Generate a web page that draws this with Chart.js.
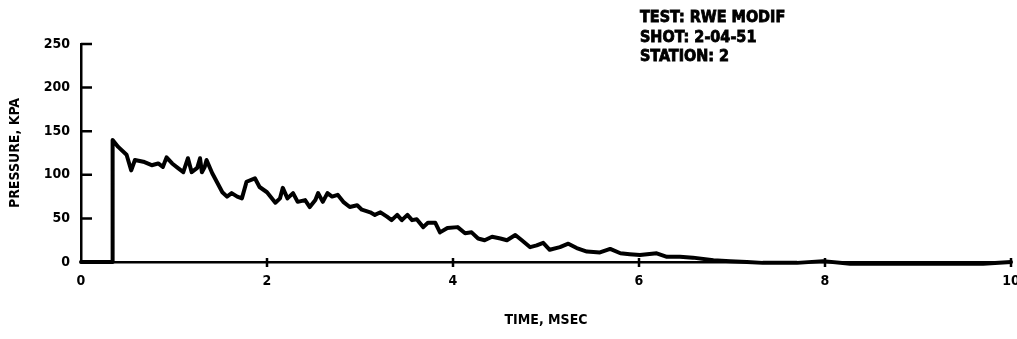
<!DOCTYPE html>
<html>
<head>
<meta charset="utf-8">
<title>Pressure trace</title>
<script src="https://cdn.jsdelivr.net/npm/chart.js@4/dist/chart.umd.min.js"></script>
<style>
    html, body { margin: 0; padding: 0; background: #fff; }
    #wrap { width: 1017px; height: 339px; }
</style>
</head>
<body>
<div id="wrap"><canvas id="pressure-chart" width="1017" height="339"></canvas></div>
<script>
// gauge record, time in msec, pressure in kPa
const timeMs = [
    0, 0.34, 0.34, 0.40, 0.49, 0.54, 0.58, 0.67, 0.76, 0.83, 0.88, 0.92, 0.98, 1.04, 1.10,
    1.15, 1.19, 1.25, 1.28, 1.30, 1.33, 1.35, 1.41, 1.46, 1.52, 1.57, 1.62, 1.68, 1.73, 1.78,
    1.87, 1.92, 2.00, 2.09, 2.14, 2.17, 2.22, 2.28, 2.33, 2.41, 2.46, 2.52, 2.55, 2.60, 2.65,
    2.70, 2.76, 2.82, 2.89, 2.97, 3.02, 3.11, 3.16, 3.22, 3.29, 3.34, 3.40, 3.45, 3.51, 3.56,
    3.61, 3.68, 3.73, 3.81, 3.86, 3.94, 4.05, 4.13, 4.20, 4.27, 4.34, 4.42, 4.51, 4.58, 4.67,
    4.74, 4.83, 4.90, 4.97, 5.04, 5.15, 5.24, 5.33, 5.44, 5.58, 5.69, 5.80, 5.90, 6.01, 6.19,
    6.30, 6.44, 6.58, 6.80, 6.98, 7.16, 7.33, 7.52, 7.70, 7.98, 8.27, 8.60, 9.00, 9.40, 9.70,
    10.0
];
const pressureKpa = [
    0, 0, 140, 132, 123, 105, 117, 115, 111, 113, 109, 120, 113, 108, 103,
    119, 103, 108, 119, 103, 109, 117, 102, 92, 80, 75, 79, 75, 73, 92,
    96, 86, 80, 68, 73, 85, 73, 79, 69, 71, 63, 71, 79, 69, 79,
    75, 77, 69, 63, 65, 60, 57, 54, 57, 52, 48, 54, 48, 54, 48,
    49, 40, 45, 45, 34, 39, 40, 33, 34, 27, 25, 29, 27, 25, 31,
    25, 17, 19, 22, 14, 17, 21, 16, 12, 11, 15, 10, 9, 8, 10,
    6, 6, 5, 2, 1, 0, -1, -1, -1, 1, -2, -2, -2, -2, -2,
    0
];
const timeTicks = [0, 2, 4, 6, 8, 10];
const pressureTicks = [0, 50, 100, 150, 200, 250];
const headerLines = ['TEST: RWE MODIF', 'SHOT: 2-04-51', 'STATION: 2'];

const FONT = "'DejaVu Sans Condensed', 'DejaVu Sans', sans-serif";

// inward tick marks on the y axis, crossing marks on the x axis, and the header block
const axisMarks = {
    id: 'axisMarks',
    afterDraw(chart) {
        const {ctx, scales: {x, y}, chartArea} = chart;
        ctx.save();
        ctx.strokeStyle = '#000';
        ctx.lineWidth = 2.5;
        ctx.beginPath();
        pressureTicks.forEach(v => {
            if (v === 0) return;
            const py = y.getPixelForValue(v);
            ctx.moveTo(chartArea.left, py);
            ctx.lineTo(chartArea.left + 11, py);
        });
        timeTicks.forEach(v => {
            if (v === 0) return;
            const px = x.getPixelForValue(v);
            ctx.moveTo(px, chartArea.bottom - 4);
            ctx.lineTo(px, chartArea.bottom + 5);
        });
        ctx.stroke();

        ctx.fillStyle = '#000';
        ctx.lineWidth = 0.8;
        ctx.font = 'bold 16px ' + FONT;
        ctx.textBaseline = 'middle';
        headerLines.forEach((line, i) => {
            ctx.fillText(line, 640, 18 + i * 19.5);
            ctx.strokeText(line, 640, 18 + i * 19.5);
        });
        ctx.restore();
    },
};

new Chart(document.getElementById('pressure-chart'), {
    type: 'line',
    data: {
        datasets: [{
            data: timeMs.map((t, i) => ({x: t, y: pressureKpa[i]})),
            borderColor: '#000',
            borderWidth: 4,
            borderJoinStyle: 'round',
            borderCapStyle: 'round',
            pointRadius: 0,
            tension: 0,
            fill: false,
            clip: false,
        }],
    },
    options: {
        responsive: false,
        animation: false,
        events: [],
        layout: {
            padding: {left: 0, right: 6, top: 44, bottom: 0},
        },
        plugins: {
            legend: {display: false},
            tooltip: {enabled: false},
        },
        scales: {
            x: {
                type: 'linear',
                min: 0,
                max: 10,
                afterFit(scale) {
                    scale.height = 77;
                    scale.paddingLeft = 0;
                    scale.paddingRight = 0;
                },
                afterBuildTicks(scale) {
                    scale.ticks = timeTicks.map(v => ({value: v}));
                },
                grid: {display: true, drawOnChartArea: false, drawTicks: false},
                border: {display: true, color: '#000', width: 2.5},
                ticks: {
                    color: '#000',
                    padding: 11,
                    maxRotation: 0,
                    font: {family: FONT, size: 14, weight: 'bold'},
                },
                title: {
                    display: true,
                    text: 'TIME, MSEC',
                    color: '#000',
                    padding: {top: 0, bottom: 10},
                    font: {family: FONT, size: 14, weight: 'bold'},
                },
            },
            y: {
                min: 0,
                max: 250,
                afterFit(scale) {
                    scale.width = 81;
                    scale.paddingTop = 0;
                    scale.paddingBottom = 0;
                },
                afterBuildTicks(scale) {
                    scale.ticks = pressureTicks.map(v => ({value: v}));
                },
                grid: {display: true, drawOnChartArea: false, drawTicks: false},
                border: {display: true, color: '#000', width: 2.5},
                ticks: {
                    color: '#000',
                    padding: 11,
                    font: {family: FONT, size: 14, weight: 'bold'},
                },
                title: {
                    display: true,
                    text: 'PRESSURE, KPA',
                    color: '#000',
                    padding: {top: 7, bottom: 0},
                    font: {family: FONT, size: 14, weight: 'bold'},
                },
            },
        },
    },
    plugins: [axisMarks],
});
</script>
</body>
</html>
